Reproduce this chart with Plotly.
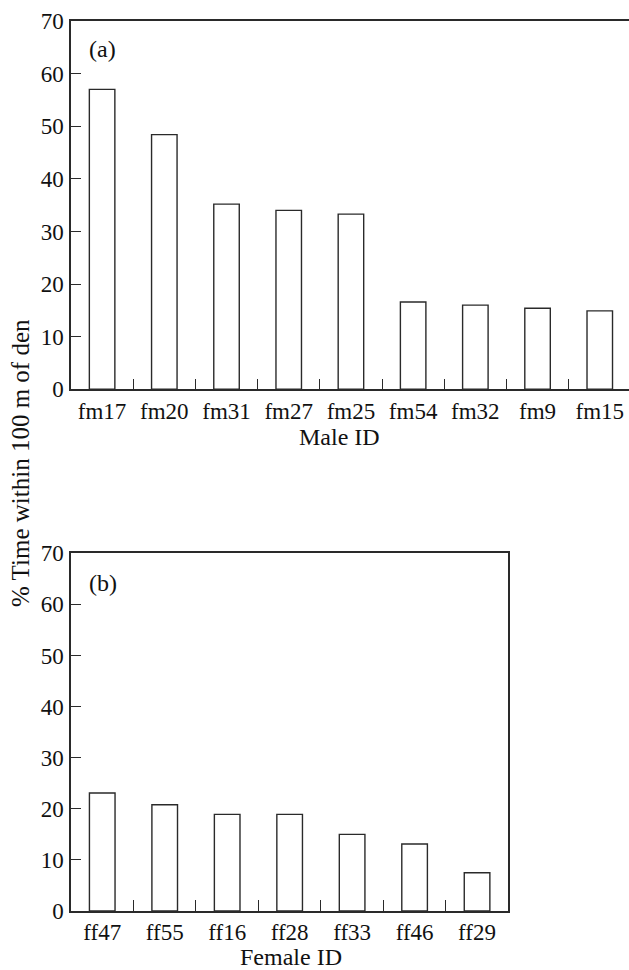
import plotly.graph_objects as go

male_ids = ["fm17", "fm20", "fm31", "fm27", "fm25", "fm54", "fm32", "fm9", "fm15"]
male_vals = [57.0, 48.4, 35.2, 34.0, 33.3, 16.6, 16.0, 15.4, 14.9]
female_ids = ["ff47", "ff55", "ff16", "ff28", "ff33", "ff46", "ff29"]
female_vals = [23.1, 20.8, 18.9, 18.9, 15.0, 13.1, 7.5]
y_ticks = [0, 10, 20, 30, 40, 50, 60, 70]

FONT = "Liberation Serif"
LC = "#2a2a2a"
W, H = 629, 970
ML, MR, MT, MB = 71, 0, 21, 59
PH = H - MT - MB
PW = W - ML - MR

fig = go.Figure()
bar_style = dict(marker=dict(color="white", line=dict(color=LC, width=1.4)), width=0.41, showlegend=False, hoverinfo="x+y")
fig.add_trace(go.Bar(x=male_ids, y=male_vals, xaxis="x", yaxis="y", **bar_style))
fig.add_trace(go.Bar(x=female_ids, y=female_vals, xaxis="x2", yaxis="y2", **bar_style))

top_dom = [1 - (389.3 - MT) / PH, 1]
bot_dom = [0, (911 - 553.3) / PH]

TF = dict(family=FONT, size=23, color="#111")
xcommon = dict(type="category", showline=True, linecolor=LC, linewidth=1.5, ticks="inside",
               tickson="boundaries", ticklen=11, tickwidth=1.3, tickcolor=LC, showgrid=False,
               tickfont=TF, zeroline=False, fixedrange=True, automargin=False)
ycommon = dict(range=[0, 70], tickvals=y_ticks, showline=True, linecolor=LC, linewidth=1.5,
               ticks="inside", ticklen=10, tickwidth=1.3, tickcolor=LC, showgrid=False, zeroline=False,
               tickfont=TF, ticklabelstandoff=1, automargin=False)

AF = dict(family=FONT, size=24, color="#111")
fig.update_layout(
    width=W, height=H,
    margin=dict(l=ML, r=MR, t=MT, b=MB),
    paper_bgcolor="white", plot_bgcolor="white",
    xaxis=dict(domain=[0, 1], range=[-0.5, 8.47], anchor="y", mirror=True, **xcommon),
    yaxis=dict(domain=top_dom, anchor="x", mirror=False, **ycommon),
    xaxis2=dict(domain=[0, 437.3 / PW], range=[-0.5, 6.5], anchor="y2", mirror=True, **xcommon),
    yaxis2=dict(domain=bot_dom, anchor="x2", mirror=True, **ycommon),
    annotations=[
        dict(text="(a)", x=87, y=49, showarrow=False, font=AF, xanchor="left", yanchor="middle"),
        dict(text="(b)", x=87, y=583, showarrow=False, font=AF, xanchor="left", yanchor="middle"),
        dict(text="Male ID", x=339, y=437, showarrow=False, font=AF, xanchor="center", yanchor="middle"),
        dict(text="Female ID", x=291, y=957, showarrow=False, font=AF, xanchor="center", yanchor="middle"),
        dict(text="% Time within 100 m of den", x=20, y=463, showarrow=False, textangle=-90,
             font=dict(family=FONT, size=25, color="#111"), xanchor="center", yanchor="middle"),
    ],
)

# convert pixel positions of annotations to paper coords
for a in fig.layout.annotations:
    a.x = (a.x - ML) / PW
    a.y = 1 - (a.y - MT) / PH
    a.xref = "paper"
    a.yref = "paper"

fig.write_html("out.html", config={"displayModeBar": False},
               post_script="document.body.style.margin='0';document.body.style.overflow='hidden';")
